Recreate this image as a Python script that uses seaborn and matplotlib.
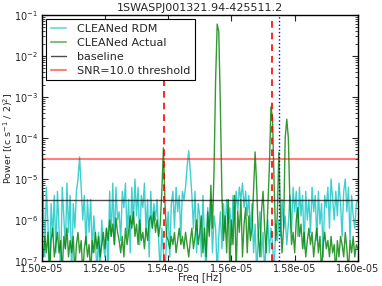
import numpy as np
import pandas as pd
import matplotlib

matplotlib.use("Agg")
import matplotlib.pyplot as plt
import seaborn as sns
from matplotlib.ticker import FormatStrFormatter, MultipleLocator

# frequency grid [Hz]
freq_start = 1.50e-5
freq_stop = 1.60e-5
n_freq = 201

# log10 power of the CLEANed random-data spectrum
rdm_log = [
    -6.6, -5.3, -6.9, -5.2, -6.1, -7.4, -5.6, -6.4, -5.4, -6.8,
    -5.3, -6.2, -7.3, -5.2, -5.9, -6.7, -5.1, -6.3, -5.4, -7.4,
    -5.6, -6.2, -5.3, -5.0, -4.46, -5.2, -6.0, -5.4, -6.6, -5.5,
    -6.3, -5.5, -6.8, -5.9, -6.5, -7.3, -6.3, -7.4, -6.0, -6.6,
    -6.9, -6.2, -7.3, -5.3, -6.4, -5.1, -6.6, -5.2, -6.0, -5.8,
    -6.5, -5.3, -5.7, -5.1, -6.4, -5.5, -6.8, -5.2, -6.1, -5.0,
    -5.9, -5.2, -6.6, -5.4, -5.7, -5.1, -6.3, -5.5, -6.9, -5.3,
    -6.2, -5.6, -6.0, -5.5, -6.5, -7.3, -6.2, -6.8, -7.4, -6.4,
    -5.8, -6.9, -5.6, -5.3, -6.2, -5.2, -5.8, -5.4, -6.4, -5.3,
    -5.5, -5.2, -4.7, -4.31, -4.8, -5.4, -6.2, -5.3, -6.8, -5.6,
    -5.9, -6.9, -5.4, -6.5, -7.3, -5.7, -6.3, -5.5, -6.8, -5.9,
    -6.2, -7.3, -6.4, -5.8, -6.7, -5.6, -6.3, -5.5, -6.1, -5.7,
    -6.6, -5.4, -6.0, -5.3, -5.8, -5.2, -5.5, -5.1, -5.7, -5.3,
    -5.9, -5.4, -6.3, -5.6, -6.8, -6.1, -7.3, -6.4, -5.8, -6.9,
    -6.3, -7.3, -6.5, -6.0, -6.8, -6.2, -6.6, -7.3, -6.1, -6.5,
    -6.0, -6.4, -5.5, -6.2, -5.9, -6.6, -6.1, -5.4, -6.3, -5.2,
    -5.8, -5.3, -6.4, -5.2, -5.9, -5.4, -6.7, -5.3, -6.0, -5.5,
    -6.3, -5.2, -5.8, -5.4, -6.5, -5.3, -6.1, -5.6, -6.9, -5.4,
    -5.7, -5.2, -6.2, -5.0, -5.5, -6.0, -5.3, -5.9, -5.1, -5.6,
    -6.4, -5.3, -5.0, -5.8, -5.2, -6.5, -5.4, -5.9, -6.2, -5.6,
    -5.5,
]

# log10 power of the CLEANed actual spectrum
act_log = [
    -6.6, -6.9, -6.4, -6.8, -6.3, -7.3, -6.5, -6.2, -6.9, -6.6,
    -6.3, -6.8, -6.5, -7.3, -6.4, -6.7, -6.2, -6.9, -6.5, -6.8,
    -6.4, -7.3, -6.6, -6.3, -6.8, -6.5, -7.3, -6.7, -6.4, -6.9,
    -6.6, -7.3, -6.5, -6.8, -6.3, -6.7, -6.4, -6.9, -6.6, -6.3,
    -6.7, -6.2, -6.5, -6.0, -6.4, -6.1, -6.6, -5.95, -6.3, -6.5,
    -6.8, -6.4, -6.9, -6.2, -6.6, -6.3, -5.9, -6.2, -5.8, -6.4,
    -6.1, -6.6, -6.0, -6.5, -6.3, -6.7, -6.2, -6.5, -6.0, -5.9,
    -6.2, -5.8, -6.3, -6.0, -6.4, -6.1, -5.3, -4.24, -5.6, -6.4,
    -6.5, -6.7, -6.4, -6.6, -6.3, -6.8, -6.5, -6.2, -6.6, -6.4,
    -6.7, -6.3, -6.6, -6.9, -6.5, -6.2, -6.7, -6.4, -6.0, -6.6,
    -6.3, -5.9, -6.8, -6.2, -6.9, -5.8, -6.4, -5.15, -6.2, -4.8,
    -2.6, -1.22, -1.4, -3.2, -5.4, -6.5, -5.9, -6.8, -5.5, -7.3,
    -6.0, -6.6, -5.4, -7.3, -5.8, -6.3, -5.5, -6.9, -6.1, -5.7,
    -6.8, -5.9, -6.5, -6.2, -5.3, -4.34, -5.2, -6.4, -6.9, -5.8,
    -5.3, -6.2, -6.8, -5.7, -4.7, -3.24, -3.5, -5.1, -6.5, -5.9,
    -4.35, -5.9, -6.8, -6.2, -4.0, -3.54, -4.0, -5.6, -6.6, -6.3,
    -6.8, -6.0, -5.7, -6.4, -6.1, -6.7, -6.3, -6.9, -6.5, -6.2,
    -6.6, -6.3, -6.9, -6.5, -6.2, -6.8, -6.4, -7.3, -6.6, -6.3,
    -6.7, -6.5, -6.9, -6.4, -6.8, -6.6, -7.3, -6.5, -6.9, -6.4,
    -6.6, -6.9, -6.3, -6.7, -7.3, -6.5, -6.8, -6.4, -6.9, -6.6,
    -6.7,
]

baseline = 3.1e-6
snr = 10.0
peak_freqs = [1.5387e-5, 1.5727e-5]
blue_freq = 1.5751e-5

title = "1SWASPJ001321.94-425511.2"

freq = np.linspace(freq_start, freq_stop, n_freq)
df = pd.DataFrame(
    {
        "freq": freq,
        "rdm": 10 ** np.array(rdm_log),
        "actual": 10 ** np.array(act_log),
    }
)

sns.set_style("ticks")
plt.rcParams.update(
    {
        "font.family": ["DejaVu Sans"],
        "xtick.direction": "in",
        "ytick.direction": "in",
        "xtick.top": True,
        "ytick.right": True,
        "axes.edgecolor": "black",
        "axes.linewidth": 1.0,
    }
)

fig = plt.figure(figsize=(3.82, 2.86), dpi=100)
ax = fig.add_axes([0.109, 0.0874, 0.828, 0.860])

sns.lineplot(
    data=df, x="freq", y="rdm", ax=ax, color="c", alpha=0.75, lw=1.0,
    sort=False, estimator=None, label="CLEANed RDM",
)
sns.lineplot(
    data=df, x="freq", y="actual", ax=ax, color="g", alpha=0.8, lw=1.0,
    sort=False, estimator=None, label="CLEANed Actual",
)
ax.axhline(baseline, color="k", alpha=0.7, lw=1.0, label="baseline")
ax.axhline(baseline * snr, color="r", alpha=0.5, lw=1.5,
           label=f"SNR={snr} threshold")
for f in peak_freqs:
    ax.axvline(f, color="r", ls="--", lw=1.2, dashes=(4, 3))
ax.axvline(blue_freq, color="b", ls=":", lw=1.0)

ax.set_yscale("log")
ax.set_ylim(1e-7, 1e-1)
ax.set_xlim(freq_start, freq_stop)
ax.xaxis.set_major_locator(MultipleLocator(2e-7))
ax.xaxis.set_major_formatter(FormatStrFormatter("%.2e"))
ax.tick_params(labelsize=7, length=4, width=0.8, pad=2.5)
ax.tick_params(which="minor", length=2, width=0.6)

ax.set_title(title, fontsize=8, pad=3)
ax.set_xlabel("Freq [Hz]", fontsize=7, labelpad=-1)
ax.set_ylabel(r"Power [(c s$^{-1}$ / 2)$^2$]", fontsize=6.8)
ax.yaxis.set_label_coords(-0.085, 0.5)

leg = ax.legend(loc="upper left", fontsize=8, fancybox=False, framealpha=1,
                borderaxespad=0.4, handlelength=1.4, handletextpad=1.0,
                labelspacing=0.35)
leg.get_frame().set_edgecolor("black")
leg.get_frame().set_linewidth(0.8)
for h in leg.get_lines()[:2]:
    h.set_linewidth(1.5)
    h.set_alpha(0.5)

plt.savefig("out.png", dpi=100)
plt.close()
